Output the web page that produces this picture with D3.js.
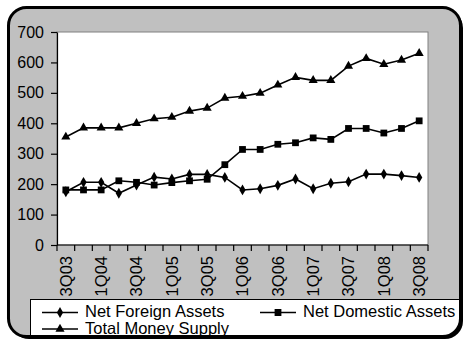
<!DOCTYPE html>
<html>
<head>
<meta charset="utf-8">
<script src="https://cdn.jsdelivr.net/npm/d3@7"></script>
<style>
  html, body { margin: 0; padding: 0; background: #ffffff; }
  svg { display: block; font-family: "Liberation Sans", Arial, sans-serif; }
</style>
</head>
<body>
<svg id="chart" width="464" height="341"></svg>
<script>
// Quarterly money supply components
const quarters = [
  "3Q03", "4Q03",
  "1Q04", "2Q04", "3Q04", "4Q04",
  "1Q05", "2Q05", "3Q05", "4Q05",
  "1Q06", "2Q06", "3Q06", "4Q06",
  "1Q07", "2Q07", "3Q07", "4Q07",
  "1Q08", "2Q08", "3Q08"
];
const netForeignAssets = [175, 206, 206, 170, 197, 223, 217, 232, 232, 222, 181, 185, 196, 217, 185, 203, 208, 233, 233, 228, 222];
const netDomesticAssets = [181, 181, 181, 211, 206, 197, 205, 211, 216, 264, 314, 314, 331, 336, 352, 347, 383, 383, 368, 383, 408];
const totalMoneySupply = [355, 385, 385, 385, 400, 415, 420, 440, 450, 483, 489, 499, 526, 551, 541, 541, 588, 613, 594, 608, 630];
const yTicks = [0, 100, 200, 300, 400, 500, 600, 700];
const xLabels = quarters.filter((q, i) => i % 2 === 0);

const series = [
  { name: "Net Foreign Assets", values: netForeignAssets, symbol: d3.symbolDiamond, size: 34, rot: 0 },
  { name: "Net Domestic Assets", values: netDomesticAssets, symbol: d3.symbolSquare, size: 46, rot: 0 },
  { name: "Total Money Supply", values: totalMoneySupply, symbol: d3.symbolTriangle, size: 36, rot: 0 }
];

const svg = d3.select("#chart");
const plot = { left: 57, right: 428, top: 32, bottom: 245 };

// Rounded outer frame with a drop shadow
const frame = { x: 8.5, y: 7.5, w: 452, h: 329, r: 18 };
svg.append("rect")
  .attr("x", frame.x + 2.5).attr("y", frame.y + 2.5)
  .attr("width", frame.w).attr("height", frame.h)
  .attr("rx", frame.r).attr("fill", "#000");
svg.append("rect")
  .attr("x", frame.x).attr("y", frame.y)
  .attr("width", frame.w).attr("height", frame.h)
  .attr("rx", frame.r).attr("fill", "#c0c0c0");

const defs = svg.append("defs");
defs.append("clipPath").attr("id", "frameClip")
  .append("rect")
  .attr("x", frame.x).attr("y", frame.y)
  .attr("width", frame.w).attr("height", frame.h)
  .attr("rx", frame.r);

// Scales
const x = d3.scaleBand().domain(quarters).range([plot.left, plot.right]).padding(0);
const y = d3.scaleLinear().domain([0, 700]).range([plot.bottom, plot.top]);
const cx = d => x(d) + x.bandwidth() / 2;

// Plot area
svg.append("rect")
  .attr("x", plot.left).attr("y", plot.top)
  .attr("width", plot.right - plot.left).attr("height", plot.bottom - plot.top)
  .attr("fill", "#fff").attr("stroke", "#808080").attr("stroke-width", 1);

// Y axis
const yAxis = svg.append("g")
  .attr("transform", `translate(${plot.left},0)`)
  .call(d3.axisLeft(y).tickValues(yTicks).tickSize(6).tickPadding(7).tickSizeOuter(0));
yAxis.select(".domain").attr("stroke", "#000").attr("stroke-width", 1.2);
yAxis.selectAll(".tick line").attr("stroke", "#000").attr("stroke-width", 1.2);
yAxis.selectAll(".tick text")
  .attr("font-size", 16).attr("fill", "#000")
  .attr("font-family", "Liberation Sans, Arial, sans-serif");

// X axis: tick marks at category boundaries, labels on alternate quarters
const xAxis = svg.append("g").attr("transform", `translate(0,${plot.bottom})`);
xAxis.append("line")
  .attr("x1", plot.left).attr("x2", plot.right)
  .attr("stroke", "#000").attr("stroke-width", 1.2);
const boundaries = quarters.map(q => x(q)).concat([x.range()[1]]);
xAxis.selectAll("line.tick")
  .data(boundaries).join("line")
  .attr("class", "tick")
  .attr("x1", d => d).attr("x2", d => d)
  .attr("y1", 0).attr("y2", 6)
  .attr("stroke", "#000").attr("stroke-width", 1.2);
xAxis.selectAll("text")
  .data(xLabels).join("text")
  .attr("transform", d => `translate(${cx(d)},11) rotate(-90)`)
  .attr("text-anchor", "end")
  .attr("dy", "0.36em")
  .attr("font-size", 16.5)
  .attr("fill", "#000")
  .text(d => d);

// Lines and markers
const line = d3.line().x((v, i) => cx(quarters[i])).y(v => y(v));
series.forEach(s => {
  svg.append("path")
    .datum(s.values)
    .attr("d", line)
    .attr("fill", "none").attr("stroke", "#000").attr("stroke-width", 1.6);
  svg.append("g").selectAll("path")
    .data(s.values).join("path")
    .attr("transform", (v, i) => `translate(${cx(quarters[i])},${y(v)})`)
    .attr("d", d3.symbol().type(s.symbol).size(s.size))
    .attr("fill", "#000");
});

// Legend (clipped by the rounded frame)
const legend = svg.append("g").attr("clip-path", "url(#frameClip)");
legend.append("rect")
  .attr("x", 30.5).attr("y", 299.5)
  .attr("width", 440).attr("height", 50)
  .attr("fill", "#fff").attr("stroke", "#000").attr("stroke-width", 1);

const legendItems = [
  { s: series[0], lx: 42, ly: 312.5 },
  { s: series[1], lx: 260, ly: 312.5 },
  { s: series[2], lx: 42, ly: 329 }
];
legendItems.forEach(it => {
  const g = legend.append("g").attr("transform", `translate(${it.lx},${it.ly})`);
  g.append("line").attr("x1", 0).attr("x2", 36)
    .attr("stroke", "#000").attr("stroke-width", 1.6);
  g.append("path")
    .attr("transform", "translate(18,0)")
    .attr("d", d3.symbol().type(it.s.symbol).size(it.s.size))
    .attr("fill", "#000");
  g.append("text")
    .attr("x", 43).attr("y", 4.5)
    .attr("font-size", 16.5).attr("fill", "#000")
    .text(it.s.name);
});

// Frame outline on top
svg.append("rect")
  .attr("x", frame.x).attr("y", frame.y)
  .attr("width", frame.w).attr("height", frame.h)
  .attr("rx", frame.r).attr("fill", "none")
  .attr("stroke", "#000").attr("stroke-width", 3);
</script>
</body>
</html>
